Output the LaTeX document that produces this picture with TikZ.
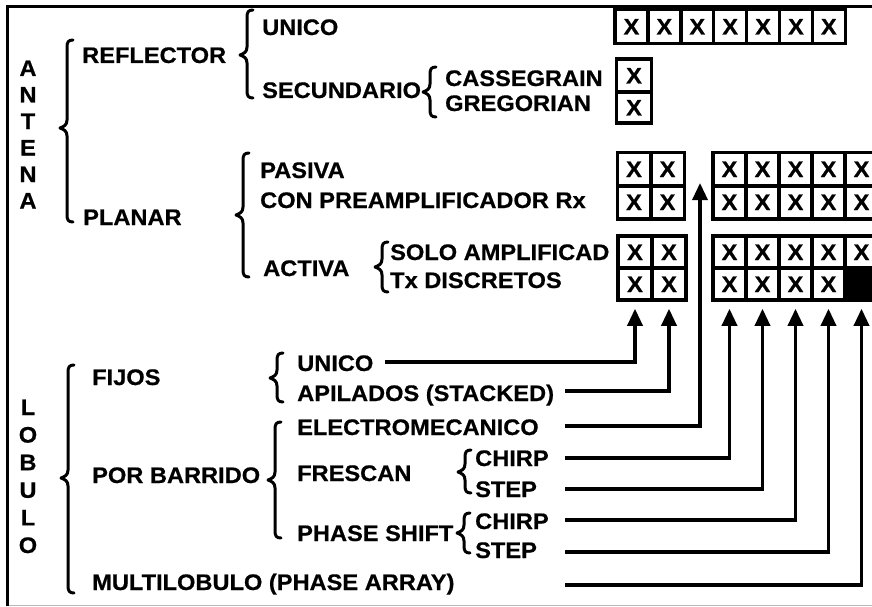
\documentclass[tikz,border=0pt]{standalone}
\usepackage{fontspec}
\setmainfont{Liberation Sans}[FakeStretch=1.05,BoldFeatures={FakeBold=0.6,FakeStretch=1.05}]
\usetikzlibrary{arrows.meta}
\newcommand\curlyb[4]{%
  \draw[bracestyle] (#1+6,#2) .. controls (#1+1.5,#2) and (#1,#2+2) .. (#1,#2+7)
    -- (#1,#4-8) .. controls (#1,#4-3) and (#1-3,#4-1.5) .. (#1-7,#4)
    .. controls (#1-3,#4+1.5) and (#1,#4+3) .. (#1,#4+8)
    -- (#1,#3-7) .. controls (#1,#3-2) and (#1+1.5,#3) .. (#1+6,#3);}
\begin{document}
\begin{tikzpicture}[x=1pt,y=-1pt,
  lab/.style={font=\fontsize{22.5}{24}\selectfont\bfseries, inner sep=0pt,
    text height=16pt, text depth=0pt, anchor=west},
  vlet/.style={lab, anchor=center},
  cell/.style={draw, line width=3.5pt, inner sep=0pt,
    font=\fontsize{22.5}{24}\selectfont\bfseries, text height=16pt, text depth=0pt},
  bracestyle/.style={line width=3pt, line cap=round, line join=round},
  arr/.style={line width=3.4pt, -{Triangle[length=17pt,width=15pt]}},
  frame/.style={line width=3.4pt}]
\useasboundingbox (0,0) rectangle (872,607);
\clip (0,0) rectangle (872,607);
% frame
\draw[frame] (7.6,606) -- (7.6,6.6) -- (872,6.6);
\draw[gray!55, line width=1.2pt] (9,605.5) -- (872,605.5);

% ANTENA letters
\foreach \l [count=\i] in {A,N,T,E,N,A}
  \node[vlet] (ant\i) at (28,{68+26.5*(\i-1)}) {\l};
% LOBULO letters
\foreach \l [count=\i] in {L,O,B,U,L,O}
  \node[vlet] (lob\i) at (28,{407+27.6*(\i-1)}) {\l};

% antenna labels
\node[lab] (refl) at (82,55) {REFLECTOR};
\node[lab] (plan) at (83,217) {PLANAR};
\node[lab] (unA) at (262,27) {UNICO};
\node[lab] (secu) at (262,90) {SECUNDARIO};
\node[lab] (cass) at (445,78) {CASSEGRAIN};
\node[lab] (greg) at (445,103) {GREGORIAN};
\node[lab] (pasi) at (260,170) {PASIVA};
\node[lab] (conp) at (260,200) {CON PREAMPLIFICADOR Rx};
\node[lab] (acti) at (263,268) {ACTIVA};
\node[lab] (solo) at (390,252) {SOLO AMPLIFICAD};
\node[lab] (txd) at (390,280) {Tx DISCRETOS};

% lobulo labels
\node[lab] (fijo) at (92,377) {FIJOS};
\node[lab] (porb) at (92,475) {POR BARRIDO};
\node[lab] (mult) at (92,582) {MULTILOBULO (PHASE ARRAY)};
\node[lab] (unB) at (297,363) {UNICO};
\node[lab] (apil) at (297,393) {APILADOS (STACKED)};
\node[lab] (elec) at (297,427) {ELECTROMECANICO};
\node[lab] (fres) at (297,473) {FRESCAN};
\node[lab] (phs) at (297,533) {PHASE SHIFT};
\node[lab] (chA) at (475,458) {CHIRP};
\node[lab] (stA) at (475,489) {STEP};
\node[lab] (chB) at (475,521) {CHIRP};
\node[lab] (stB) at (475,550) {STEP};

% braces
\curlyb{67}{40}{222}{128}
\curlyb{247}{10}{98}{55}
\curlyb{430}{67}{117}{92}
\curlyb{243}{153}{277}{215}
\curlyb{382}{242}{292}{267}
\curlyb{68}{365}{593}{478}
\curlyb{277}{353}{402}{378}
\curlyb{275}{422}{538}{480}
\curlyb{465}{450}{493}{472}
\curlyb{464}{513}{553}{533}

% boxes: top row
\foreach \i in {0,...,6}
  \node[cell, minimum width=32.9pt, minimum height=34pt] (t\i) at ({631.45+32.9*\i},26.5) {X};
\node[cell, minimum width=35pt, minimum height=33pt] (cas1) at (634,75.5) {X};
\node[cell, minimum width=35pt, minimum height=31pt] (gre1) at (634,107.5) {X};
% pasiva
\foreach \i in {0,1}{
  \node[cell, minimum width=33.5pt, minimum height=33.5pt] (pl1\i) at ({634+33.5*\i},169) {X};
  \node[cell, minimum width=33.5pt, minimum height=33.5pt] (pl2\i) at ({634+33.5*\i},202) {X};
}
\foreach \i in {0,...,4}{
  \node[cell, minimum width=33pt, minimum height=33.5pt] (pr1\i) at ({729.5+33*\i},169) {X};
  \node[cell, minimum width=33pt, minimum height=33.5pt] (pr2\i) at ({729.5+33*\i},202) {X};
}
% activa
\foreach \i in {0,1}{
  \node[cell, minimum width=34pt, minimum height=32pt] (al1\i) at ({635+34*\i},252) {X};
  \node[cell, minimum width=34pt, minimum height=32pt] (al2\i) at ({635+34*\i},284) {X\hspace{8pt}};
}
\foreach \i in {0,...,4}
  \node[cell, minimum width=33pt, minimum height=32pt] (ar1\i) at ({729.5+33*\i},252) {X};
\foreach \i in {0,...,3}
  \node[cell, minimum width=33pt, minimum height=32pt] (ar2\i) at ({729.5+33*\i},284) {X\hspace{8pt}};
\node[cell, fill=black, minimum width=33pt, minimum height=32pt] (ar24) at (861.5,284) {};

% connector start points
\coordinate (sUn) at (385,362);
\coordinate (sAp) at (565,391);
\coordinate (sEl) at (565,426);
\coordinate (sFc) at (565,458);
\coordinate (sFs) at (565,489);
\coordinate (sPc) at (565,520);
\coordinate (sPs) at (565,552);
\coordinate (sMu) at (565,585);
\coordinate (eEl) at (700,183);

\draw[arr] (sUn) -| ([yshift=-7pt]al20.south);
\draw[arr] (sAp) -| ([yshift=-7pt]al21.south);
\draw[arr] (sEl) -| (eEl);
\draw[arr] (sFc) -| ([yshift=-7pt]ar20.south);
\draw[arr] (sFs) -| ([yshift=-7pt]ar21.south);
\draw[arr] (sPc) -| ([yshift=-7pt]ar22.south);
\draw[arr] (sPs) -| ([yshift=-7pt]ar23.south);
\draw[arr] (sMu) -| ([yshift=-7pt]ar24.south);
\end{tikzpicture}
\end{document}
